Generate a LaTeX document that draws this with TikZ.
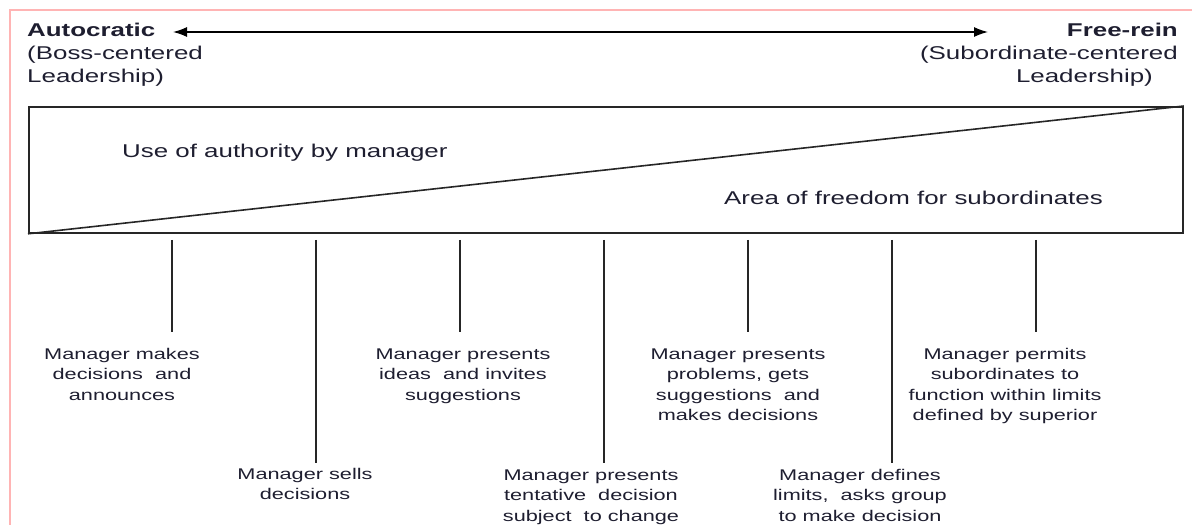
\documentclass[tikz,border=0pt]{standalone}
\usepackage{fontspec}
\setmainfont{Liberation Sans}[FakeStretch=1.4]
\usetikzlibrary{arrows.meta}
\definecolor{ink}{RGB}{30,30,48}
\definecolor{pagerule}{RGB}{255,180,180}
\begin{document}
\begin{tikzpicture}[x=1pt,y=-1pt,
  head/.style={font=\fontsize{18.5}{23}\selectfont, text=ink, inner sep=0pt},
  inside/.style={font=\fontsize{18.5}{23}\selectfont, text=ink, inner sep=0pt, anchor=base west},
  note/.style={font=\fontsize{15.5}{20.5}\selectfont, text=ink, align=center, inner sep=0pt, anchor=base},
  stem/.style={line width=1.6pt, draw=black!85, shorten <=6pt},
  scalearrow/.style={line width=1.3pt, {Latex[length=14pt,width=10pt]}-{Latex[length=14pt,width=10pt]}}
]
\useasboundingbox (0,0) rectangle (1192,525);

% page frame
\draw[pagerule, line width=1.5pt] (1195,10) -- (10,10) -- (10,530);

% the two ends of the scale (anchored on the baseline of their last line)
\node[head, align=left, anchor=base west] (auto) at (27,82)
  {\textbf{Autocratic}\\(Boss-centered\\Leadership)};
\node[head, align=right, anchor=base east] (free) at (1178,82)
  {\textbf{Free-rein}\\(Subordinate-centered\\Leadership)\hspace*{25pt}};
\coordinate (la) at (173,32);
\coordinate (ra) at (988,32);
\draw[scalearrow] (la) -- (ra);

% authority / freedom box
\node[draw=black!85, line width=1.8pt, minimum width=1154pt, minimum height=126pt,
      inner sep=0pt, anchor=north west] (box) at (28,106) {};
\draw[line width=1.6pt, black!85] (box.south west) -- (box.north east);
\node[inside] (authority) at (122,157) {Use of authority by manager};
\node[inside] (freedom) at (724,204) {Area of freedom for subordinates};

% behaviour points along the scale
\coordinate (s1) at (172,332);
\coordinate (s2) at (316,463);
\coordinate (s3) at (460,332);
\coordinate (s4) at (604,463);
\coordinate (s5) at (748,332);
\coordinate (s6) at (892,463);
\coordinate (s7) at (1036,332);
\foreach \s in {s1,s2,s3,s4,s5,s6,s7}
  \draw[stem] (box.south -| \s) -- (\s);

% labels, anchored on the baseline of their last line
\node[note] (b1) at (122,400) {Manager makes\\decisions\ \ and\\announces};
\node[note] (b2) at (305,499.5) {Manager sells\\decisions};
\node[note] (b3) at (463,400) {Manager presents\\ideas\ \ and invites\\suggestions};
\node[note] (b4) at (591,521) {Manager presents\\tentative\ \ decision\\subject\ \ to change};
\node[note] (b5) at (738,420.5) {Manager presents\\problems, gets\\suggestions\ \ and\\makes decisions};
\node[note] (b6) at (860,521) {Manager defines\\limits,\ \ asks group\\to make decision};
\node[note] (b7) at (1005,420.5) {Manager permits\\subordinates to\\function within limits\\defined by superior};
\end{tikzpicture}
\end{document}
